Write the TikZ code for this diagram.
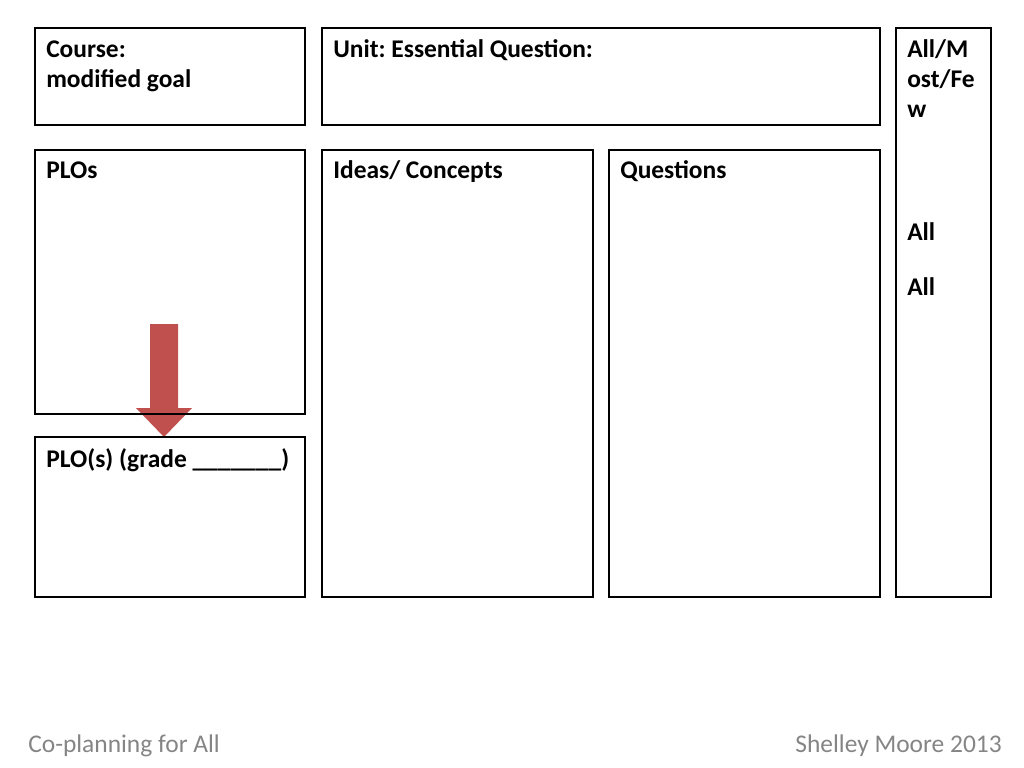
\documentclass[tikz,border=0pt]{standalone}
\usepackage{fontspec}
\setmainfont{Carlito}
\usetikzlibrary{fit}
\definecolor{arrowred}{HTML}{C0504D}
\definecolor{footgray}{HTML}{858585}
\frenchspacing

\begin{document}
\begin{tikzpicture}[x=0.025cm, y=-0.025cm,
    box/.style={draw, line width=2pt, inner sep=0pt},
    head/.style={anchor=base west, inner sep=0pt, font=\fontsize{18.1}{21.7}\selectfont\bfseries},
    foot/.style={inner sep=0pt, text=footgray, font=\fontsize{18.1}{21.7}\selectfont}]
    \useasboundingbox (0,0) rectangle (1024,768);
    \fill [arrowred] (150,324) -- (178,324) -- (178,408) -- (192,408) -- (164,437)
        -- (136,408) -- (150,408) -- cycle;
    \node [box, fit={(35,28) (305,125)}] (course) {};
    \node [box, fit={(322,28) (880,125)}] (unit) {};
    \node [box, fit={(896,28) (991,597)}] (amf) {};
    \node [box, fit={(35,150) (305,414)}] (plos) {};
    \node [box, fit={(322,150) (593,597)}] (ideas) {};
    \node [box, fit={(609,150) (880,597)}] (questions) {};
    \node [box, fit={(35,437) (305,597)}] (grade) {};
    \node [head] (course-a) at (46,58) {Course:};
    \node [head] (course-b) at (46,88) {modified goal};
    \node [head] (unit-a) at (333,58) {Unit: Essential Question:};
    \node [head] (amf-a) at (907,58) {All/M};
    \node [head] (amf-b) at (907,88) {ost/Fe};
    \node [head] (amf-c) at (907,118) {w};
    \node [head] (amf-d) at (907,240) {All};
    \node [head] (amf-e) at (907,295) {All};
    \node [head] (plos-a) at (46,179) {PLOs};
    \node [head] (ideas-a) at (333,179) {Ideas/ Concepts};
    \node [head] (questions-a) at (620,179) {Questions};
    \node [head] (grade-a) at (46,467) {PLO(s) (grade \_\_\_\_\_\_\_)};
    \node [foot, anchor=base west] (foot-l) at (28,752) {Co-planning for All};
    \node [foot, anchor=base east] (foot-r) at (1002,752) {Shelley Moore 2013};
\end{tikzpicture}
\end{document}
